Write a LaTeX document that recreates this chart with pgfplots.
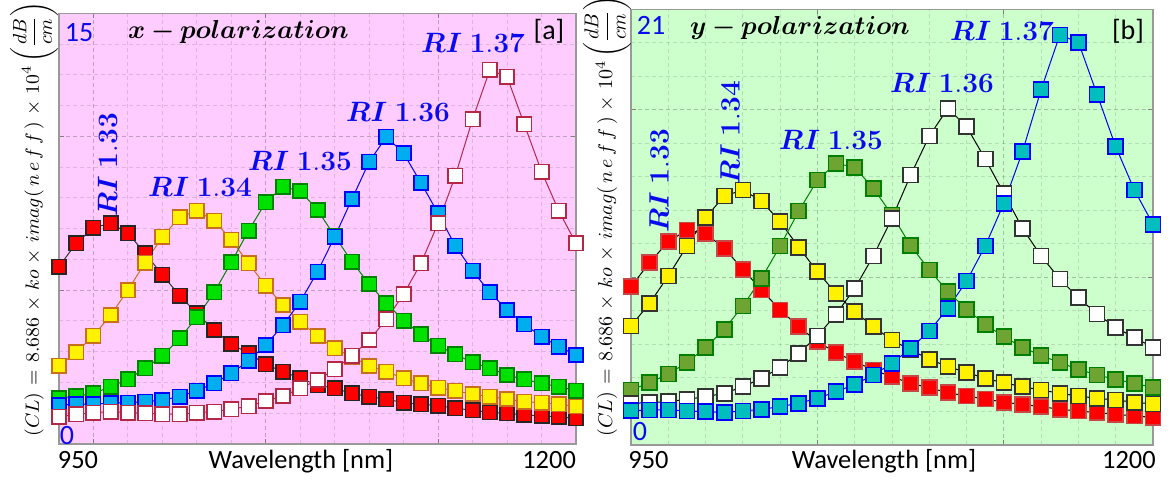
\RequirePackage{fix-cm}
\documentclass[border=0pt]{standalone}
\usepackage{amsmath}
\usepackage{bm}
\usepackage{pgfplots}
\pgfplotsset{compat=1.18}
\usepackage{pgfplotstable}
\usepackage[no-math]{fontspec}
\setmainfont{Carlito}

\definecolor{bgpink}{RGB}{255,204,255}
\definecolor{bggreen}{RGB}{204,255,204}
\definecolor{ledgeY}{RGB}{200,110,30}
\definecolor{lgreen}{RGB}{0,225,0}
\definecolor{lgreenE}{RGB}{0,130,0}
\definecolor{crimson}{RGB}{180,40,70}
\definecolor{olive2}{RGB}{110,165,50}
\definecolor{teal2}{RGB}{0,190,190}
\definecolor{rbE}{RGB}{200,70,70}
\definecolor{riblue}{RGB}{10,10,240}

\newcommand{\fs}[1]{\fontsize{#1}{#1}\selectfont}
\newcommand{\RI}[1]{$\bm{RI}\;\mathbf{#1}$}
\newcommand{\gap}{\mkern1.5mu}
\newcommand{\CLlabel}{$(CL)\gap=\gap 8.686\gap\times\gap ko\gap\times\gap imag(\,n\,e\,f\,f\,)\gap\times\gap 10^{4}\left(\dfrac{dB}{cm}\right)$}

% x-polarization
\pgfplotstableread{
wl   a     b     c     d      e
930  6.18  2.73  1.59  1.36   0.95
940  6.99  3.19  1.67  1.38   1.03
950  7.53  3.77  1.76  1.39   1.09
960  7.69  4.49  2.00  1.42   1.13
970  7.34  5.36  2.25  1.44   1.09
980  6.64  6.32  2.64  1.47   1.07
990  5.89  7.22  3.07  1.53   1.04
1000 5.17  7.90  3.68  1.65   1.04
1010 4.55  8.12  4.41  1.86   1.09
1020 3.97  7.78  5.28  2.11   1.13
1030 3.48  7.11  6.33  2.46   1.21
1040 3.16  6.29  7.43  2.90   1.32
1050 2.77  5.51  8.42  3.45   1.50
1060 2.52  4.84  8.96  4.14   1.67
1070 2.29  4.26  8.81  4.96   1.94
1080 2.05  3.76  8.15  6.00   2.23
1090 1.94  3.33  7.24  7.22   2.60
1100 1.76  3.04  6.35  8.53   3.07
1110 1.65  2.72  5.57  9.83   3.62
1120 1.56  2.52  4.90  10.70  4.34
1130 1.44  2.29  4.30  10.12  5.22
1140 1.38  2.11  3.82  9.10   6.29
1150 1.34  1.96  3.43  8.03   7.69
1160 1.24  1.85  3.12  6.90   9.35
1170 1.18  1.74  2.84  6.03   11.31
1180 1.10  1.65  2.64  5.28   13.03
1190 1.07  1.57  2.40  4.67   12.79
1200 1.01  1.47  2.25  4.17   11.13
1210 0.98  1.44  2.11  3.74   9.49
1220 0.95  1.38  2.00  3.39   8.12
1230 0.89  1.32  1.86  3.10   6.99
}\leftdata

% y-polarization
\pgfplotstableread{
wl   a      b      c      d      e
950  7.63   5.74   2.65   2.01   1.65
960  8.80   6.83   3.00   2.04   1.69
970  9.80   8.15   3.42   2.09   1.69
980  10.36  9.59   3.98   2.20   1.64
990  10.20  10.96  4.69   2.33   1.61
1000 9.48   12.00  5.58   2.49   1.57
1010 8.47   12.29  6.70   2.81   1.64
1020 7.47   11.76  8.03   3.21   1.72
1030 6.51   10.76  9.59   3.74   1.85
1040 5.70   9.53   11.28  4.42   2.01
1050 4.98   8.35   12.77  5.25   2.25
1060 4.45   7.31   13.58  6.30   2.57
1070 4.02   6.43   13.38  7.55   2.92
1080 3.62   5.70   12.37  9.11   3.37
1090 3.29   5.06   11.09  10.93  3.94
1100 2.97   4.58   9.61   13.01  4.66
1110 2.76   4.13   8.44   14.89  5.49
1120 2.52   3.78   7.39   16.23  6.59
1130 2.36   3.50   6.54   15.34  7.90
1140 2.22   3.21   5.82   13.79  9.59
1150 2.06   3.00   5.22   12.13  11.65
1160 1.96   2.81   4.71   10.44  14.14
1170 1.85   2.65   4.31   9.11   17.14
1180 1.72   2.49   3.97   8.00   19.76
1190 1.64   2.36   3.65   7.10   19.41
1200 1.56   2.25   3.37   6.31   16.90
1210 1.48   2.17   3.17   5.67   14.38
1220 1.40   2.06   2.97   5.17   12.29
1230 1.33   1.98   2.78   4.71   10.64
}\rightdata

\pgfplotsset{
  panel/.style={
    scale only axis, anchor=south west, clip=false,
    tick align=inside, xtick pos=both, ytick pos=both,
    xticklabels={}, yticklabels={},
    grid=both,
    major grid style={dash pattern=on 2pt off 1.5pt, black, opacity=0.12, line width=0.5pt},
    minor grid style={dash pattern=on 2pt off 1.5pt, black, opacity=0.12, line width=0.5pt},
    axis line style={black!40, line width=0.6pt},
    major tick length=2.5pt, minor tick length=0pt,
    tick style={black!50, line width=0.5pt},
    every axis plot/.append style={line width=0.5pt, mark=square*, mark size=3.6pt},
    extra x tick style={grid=none, major tick length=0pt,
      xticklabel style={anchor=base, font=\fs{13.2}}},
    xlabel style={anchor=base, font=\fs{13.2}},
  },
}

\begin{document}
\begin{tikzpicture}
\useasboundingbox (0,0) rectangle (585pt,-240.5pt);

% ---------------- left panel ----------------
\begin{axis}[panel,
  at={(29.5pt,-222pt)}, width=258.5pt, height=215.35pt,
  axis background/.style={fill=bgpink},
  xmin=930, xmax=1230, ymin=0, ymax=15,
  xtick={950,1050,1150}, minor xtick={930,950,...,1230},
  ytick={5.3571,10.7143}, minor ytick={0,1.0714,...,15},
  extra x ticks={941,1214.4}, extra x tick labels={950,1200},
  extra x tick style={xticklabel style={yshift=-12pt}},
  xlabel={Wavelength [nm]},
  xlabel style={at={(axis description cs:0.468,0)}, yshift=-12pt},
]
\addplot[black!80, mark options={solid, fill=red, draw=black!85, line width=0.8pt}] table[x=wl,y=a] {\leftdata};
\addplot[ledgeY, mark options={solid, fill=yellow, draw=ledgeY, line width=0.8pt}] table[x=wl,y=b] {\leftdata};
\addplot[lgreenE, mark options={solid, fill=lgreen, draw=lgreenE, line width=0.8pt}] table[x=wl,y=c] {\leftdata};
\addplot[blue, mark options={solid, fill=cyan, draw=blue, line width=0.8pt}] table[x=wl,y=d] {\leftdata};
\addplot[crimson, mark options={solid, fill=white, draw=crimson, line width=0.8pt}] table[x=wl,y=e] {\leftdata};
\end{axis}

% ---------------- right panel ----------------
\begin{axis}[panel,
  at={(315.5pt,-222.5pt)}, width=261pt, height=217.85pt,
  axis background/.style={fill=bggreen},
  xmin=950, xmax=1230, ymin=0, ymax=21,
  xtick={950,1050,1150}, minor xtick={950,970,...,1230},
  ytick={8.0769,16.1538}, minor ytick={0,1.61538,...,21},
  extra x ticks={959.4,1217.1}, extra x tick labels={950,1200},
  extra x tick style={xticklabel style={yshift=-11.5pt}},
  xlabel={Wavelength [nm]},
  xlabel style={at={(axis description cs:0.4847,0)}, yshift=-11.5pt},
  every axis plot/.append style={mark size=3.75pt},
]
\addplot[black, mark options={solid, fill=red, draw=rbE, line width=0.8pt}] table[x=wl,y=a] {\rightdata};
\addplot[black, mark options={solid, fill=yellow, draw=black!80, line width=0.8pt}] table[x=wl,y=b] {\rightdata};
\addplot[green!50!black, mark options={solid, fill=olive2, draw=green!50!black, line width=0.8pt}] table[x=wl,y=c] {\rightdata};
\addplot[black, mark options={solid, fill=white, draw=black!80, line width=0.8pt}] table[x=wl,y=d] {\rightdata};
\addplot[blue, mark options={solid, fill=teal2, draw=blue, line width=0.8pt}] table[x=wl,y=e] {\rightdata};
\end{axis}

% ---------------- annotations (pixel coordinates, origin top left) ----------------
\begin{scope}[x=0.5pt,y=-0.5pt]
% left
\node[riblue, font=\fs{14}, inner sep=0pt] at (79,32.5) {15};
\node[riblue, font=\fs{14}, inner sep=0pt] at (67,436) {0};
\node[font=\fs{13}] at (238.5,32) {$\bm{x - polarization}$};
\node[font=\fs{14}] at (549,31) {[a]};
\node[riblue, font=\fs{14}, inner sep=0pt, rotate=90] at (107.5,165) {\RI{1.33}};
\node[riblue, font=\fs{14}, inner sep=0pt] at (200,187) {\RI{1.34}};
\node[riblue, font=\fs{14}, inner sep=0pt] at (300,161) {\RI{1.35}};
\node[riblue, font=\fs{14}, inner sep=0pt] at (398,112) {\RI{1.36}};
\node[riblue, font=\fs{14}, inner sep=0pt] at (473,43) {\RI{1.37}};
\node[rotate=90, anchor=west, inner sep=0pt, font=\fs{9.6}] at (34,437) {\CLlabel};
% right
\node[riblue, font=\fs{14}, inner sep=0pt] at (651,25) {21};
\node[riblue, font=\fs{14}, inner sep=0pt] at (640,432) {0};
\node[font=\fs{13}] at (800,28) {$\bm{y - polarization}$};
\node[font=\fs{14}] at (1128,31) {[b]};
\node[riblue, font=\fs{14}, inner sep=0pt, rotate=90] at (659,181) {\RI{1.33}};
\node[riblue, font=\fs{14}, inner sep=0pt, rotate=90] at (730,133) {\RI{1.34}};
\node[riblue, font=\fs{14}, inner sep=0pt] at (831,140) {\RI{1.35}};
\node[riblue, font=\fs{14}, inner sep=0pt] at (942,83) {\RI{1.36}};
\node[riblue, font=\fs{14}, inner sep=0pt] at (1002,31) {\RI{1.37}};
\node[rotate=90, anchor=west, inner sep=0pt, font=\fs{10}] at (607,437) {\CLlabel};
\end{scope}
\end{tikzpicture}
\end{document}
